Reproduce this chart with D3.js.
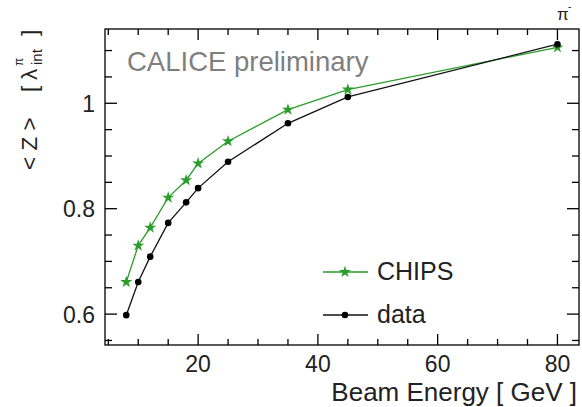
<!DOCTYPE html>
<html><head><meta charset="utf-8">
<script src="https://cdn.jsdelivr.net/npm/d3@7"></script>
<style>body{margin:0;background:#fff}svg{display:block}text{font-family:"Liberation Sans",Arial,sans-serif}</style>
</head><body>
<svg id="c" width="582" height="407"></svg>
<script>
const energies = [8, 10, 12, 15, 18, 20, 25, 35, 45, 80];
const chipsValues = [0.661, 0.730, 0.764, 0.821, 0.854, 0.886, 0.928, 0.988, 1.026, 1.106];
const dataValues = [0.598, 0.661, 0.709, 0.773, 0.812, 0.839, 0.889, 0.962, 1.012, 1.112];
const xTickLabels = [20, 40, 60, 80];
const yTickLabels = [0.6, 0.8, 1.0];

const svg = d3.select("#c");
const L = 105, R = 579, T = 29, B = 345;
const x = d3.scaleLinear().domain([4.45, 83.6]).range([L, R]);
const y = d3.scaleLinear().domain([0.5414, 1.1409]).range([B, T]);
const green = "#2a9d2a";

// frame
svg.append("rect").attr("x", L).attr("y", T).attr("width", R - L).attr("height", B - T)
  .attr("fill", "none").attr("stroke", "#000").attr("stroke-width", 1.3);

// ticks
const xMinor = d3.range(5, 84, 5);
const yMinor = d3.range(0.55, 1.141, 0.05);
const tk = svg.append("g").attr("stroke", "#000").attr("stroke-width", 1.3);
xMinor.forEach(v => {
  const major = xTickLabels.some(m => Math.abs(m - v) < 1e-6);
  const len = major ? 11 : 6;
  tk.append("line").attr("x1", x(v)).attr("x2", x(v)).attr("y1", B).attr("y2", B - len);
  tk.append("line").attr("x1", x(v)).attr("x2", x(v)).attr("y1", T).attr("y2", T + len);
});
yMinor.forEach(v => {
  const major = yTickLabels.some(m => Math.abs(m - v) < 1e-6);
  const len = major ? 12 : 7;
  tk.append("line").attr("x1", L).attr("x2", L + len).attr("y1", y(v)).attr("y2", y(v));
  tk.append("line").attr("x1", R).attr("x2", R - len).attr("y1", y(v)).attr("y2", y(v));
});

// tick labels
svg.append("g").selectAll("text").data(xTickLabels).join("text")
  .attr("x", d => x(d)).attr("y", 372).attr("text-anchor", "middle")
  .attr("font-size", 23).attr("fill", "#222").text(d => d);
svg.append("g").selectAll("text").data(yTickLabels).join("text")
  .attr("x", 95).attr("y", d => y(d) + 8.5).attr("text-anchor", "end")
  .attr("font-size", 23).attr("fill", "#222").text(d => d3.format("")(d));

// axis titles
svg.append("text").attr("x", 577).attr("y", 401).attr("text-anchor", "end")
  .attr("font-size", 26).attr("fill", "#222").text("Beam Energy [ GeV ]");

const yt = svg.append("g").attr("transform", "translate(37,170) rotate(-90)").attr("fill", "#222");
yt.append("text").attr("x", 0).attr("y", 0).attr("font-size", 22.5).text("< Z >");
yt.append("text").attr("x", 78).attr("y", 0).attr("font-size", 22.5).text("[");
yt.append("text").attr("x", 90).attr("y", 0).attr("font-size", 22.5).attr("font-family", "Liberation Serif").text("λ");
yt.append("text").attr("x", 104).attr("y", -14).attr("font-size", 12).attr("font-family", "Liberation Serif").text("π");
yt.append("text").attr("x", 105).attr("y", 5).attr("font-size", 15).text("int");
yt.append("text").attr("x", 134).attr("y", 0).attr("font-size", 22.5).text("]");

// CALICE label
svg.append("text").attr("x", 127).attr("y", 71).attr("font-size", 27.5).attr("fill", "#7f7f7f")
  .text("CALICE preliminary");

// pi- label
svg.append("text").attr("x", 557).attr("y", 20).attr("font-family", "Liberation Serif")
  .attr("font-size", 17).attr("fill", "#222").text("π");
svg.append("text").attr("x", 568).attr("y", 10).attr("font-family", "Liberation Serif")
  .attr("font-size", 10).attr("fill", "#222").text("-");

// lines
const pts = vals => energies.map((e, i) => [x(e), y(vals[i])]);
const line = d3.line();
svg.append("path").attr("d", line(pts(chipsValues))).attr("fill", "none")
  .attr("stroke", green).attr("stroke-width", 1.3);
svg.append("path").attr("d", line(pts(dataValues))).attr("fill", "none")
  .attr("stroke", "#111").attr("stroke-width", 1.3);

const star = d3.symbol().type(d3.symbolStar).size(45);
svg.append("g").selectAll("path").data(pts(chipsValues)).join("path")
  .attr("d", star).attr("transform", d => `translate(${d[0]},${d[1]})`).attr("fill", green);
svg.append("g").selectAll("circle").data(pts(dataValues)).join("circle")
  .attr("cx", d => d[0]).attr("cy", d => d[1]).attr("r", 3.3).attr("fill", "#000");

// legend
const lg = svg.append("g");
lg.append("line").attr("x1", 323).attr("x2", 368).attr("y1", 272).attr("y2", 272).attr("stroke", green).attr("stroke-width", 1.5);
lg.append("path").attr("d", star).attr("transform", "translate(345,272)").attr("fill", green);
lg.append("text").attr("x", 377).attr("y", 280).attr("font-size", 25).attr("fill", "#222").text("CHIPS");
lg.append("line").attr("x1", 323).attr("x2", 368).attr("y1", 315).attr("y2", 315).attr("stroke", "#111").attr("stroke-width", 1.5);
lg.append("circle").attr("cx", 345).attr("cy", 315).attr("r", 3.3).attr("fill", "#000");
lg.append("text").attr("x", 377).attr("y", 323).attr("font-size", 25).attr("fill", "#222").text("data");
</script>
</body></html>
